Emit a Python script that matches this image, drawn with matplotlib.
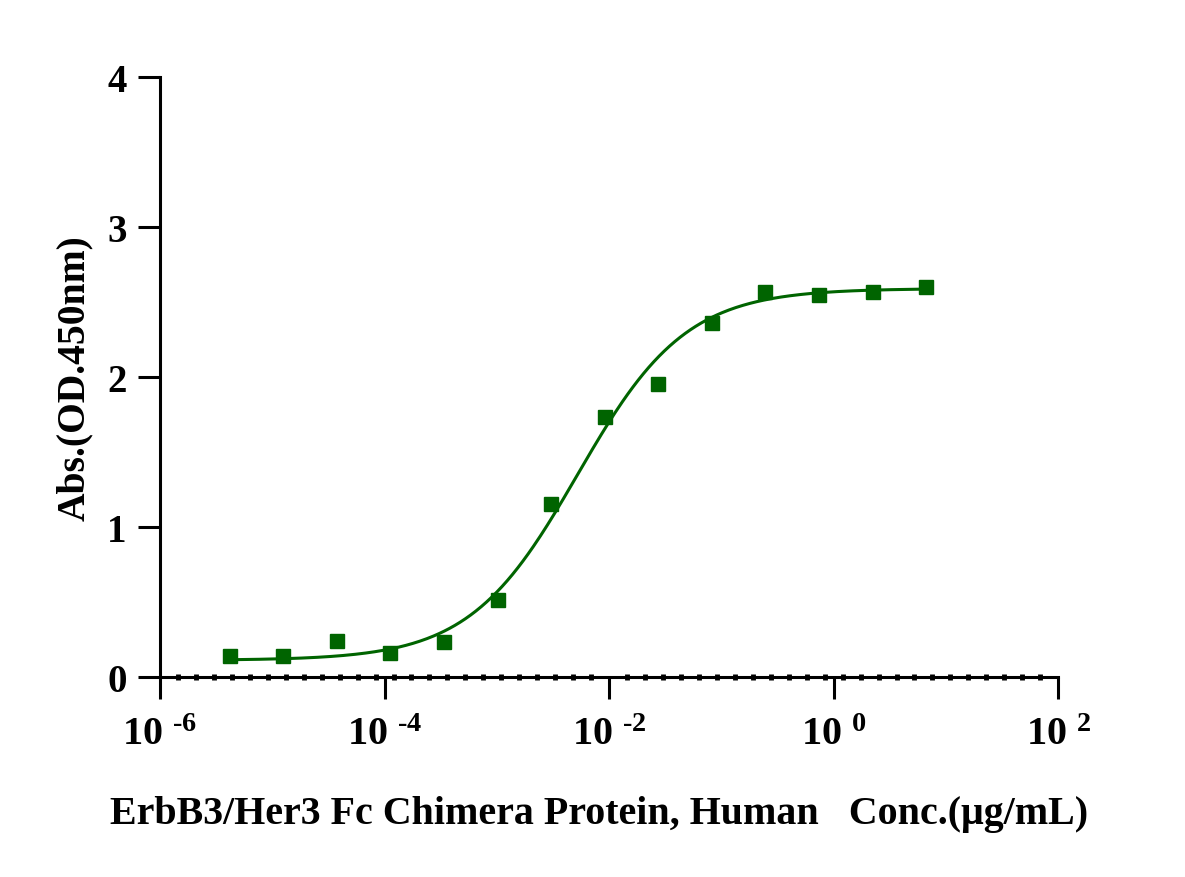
import numpy as np
import matplotlib
matplotlib.use("Agg")
import matplotlib.pyplot as plt
from matplotlib.ticker import NullFormatter

plt.rcParams['font.family'] = ['Liberation Serif', 'DejaVu Serif']
plt.rcParams['font.weight'] = 'bold'
plt.rcParams['mathtext.fontset'] = 'custom'
plt.rcParams['mathtext.rm'] = 'Liberation Serif:bold'
plt.rcParams['mathtext.default'] = 'rm'

# 数据 (3倍稀释)
conc = [4.18e-6, 1.25e-5, 3.76e-5, 1.13e-4, 3.39e-4, 1.02e-3, 3.05e-3,
        9.15e-3, 2.74e-2, 8.23e-2, 0.247, 0.741, 2.22, 6.67]
od450 = [0.14, 0.14, 0.24, 0.16, 0.23, 0.51, 1.15,
         1.73, 1.95, 2.36, 2.57, 2.55, 2.57, 2.60]

# 四参数拟合
bottom, top, log_ec50, hill = 0.11, 2.59, -2.28, 0.9

xticks = [1e-6, 1e-4, 1e-2, 1e0, 1e2]
xtick_labels = [r'$10^{\ \text{-6}}$', r'$10^{\ \text{-4}}$', r'$10^{\ \text{-2}}$',
                r'$10^{\ 0}$', r'$10^{\ 2}$']
yticks = [0, 1, 2, 3, 4]

green = '#006400'

fig = plt.figure(figsize=(11.85, 8.78), dpi=100)
ax = fig.add_axes([0.135, 0.228, 0.758, 0.683])

xs = np.logspace(np.log10(conc[0]), np.log10(conc[-1]), 400)
ys = bottom + (top - bottom) / (1 + 10 ** ((log_ec50 - np.log10(xs)) * hill))
ax.plot(xs, ys, color=green, lw=2.2, zorder=3)
ax.plot(conc, od450, 's', color=green, markersize=10, zorder=4)

ax.set_xscale('log')
ax.set_xlim(1e-6, 1e2)
ax.set_ylim(0, 4)
ax.set_xticks(xticks)
ax.set_xticklabels(xtick_labels)
ax.set_xticks(10 ** (-6 + 0.16 * np.arange(1, 50)), minor=True)
ax.xaxis.set_minor_formatter(NullFormatter())
ax.set_yticks(yticks)

for s in ['top', 'right']:
    ax.spines[s].set_visible(False)
for s in ['left', 'bottom']:
    ax.spines[s].set_linewidth(2.2)
    ax.spines[s].set_clip_on(False)

ax.tick_params(axis='both', which='major', length=16, width=2.2,
               labelsize=28, pad=8)
ax.tick_params(axis='x', which='major', labelsize=29, pad=12)
ax.tick_params(axis='x', which='minor', direction='inout', length=5,
               width=3.5)

ax.set_xlabel('ErbB3/Her3 Fc Chimera Protein, Human   Conc.(μg/mL)',
              fontsize=28.8, fontweight='bold', labelpad=32)
ax.xaxis.set_label_coords(0.489, -0.197)
ax.set_ylabel('Abs.(OD.450nm)', fontsize=28.5, fontweight='bold', labelpad=10)

fig.savefig('out.png', dpi=100)
